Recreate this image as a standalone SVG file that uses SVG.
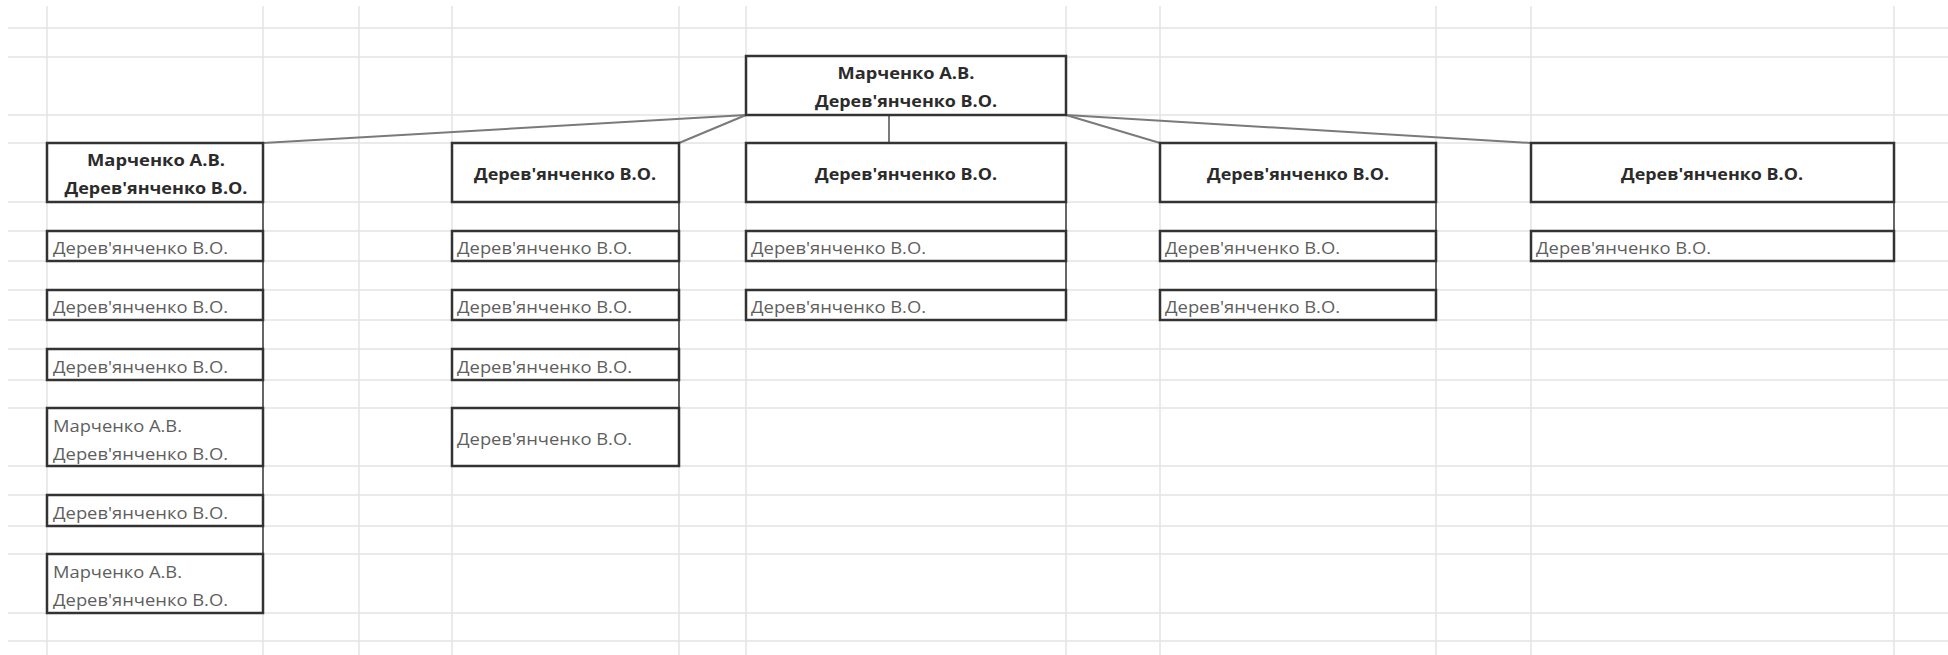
<svg xmlns="http://www.w3.org/2000/svg" width="1948" height="655" viewBox="0 0 1948 655">
  <style>
    .grid line { stroke: #e3e3e3; stroke-width: 1.5; }
    .box { fill: #ffffff; stroke: #333333; stroke-width: 2.5; }
    .head { font-family: "Open Sans", "Liberation Sans", sans-serif; font-weight: bold; font-size: 16px; fill: #2b2b2b; text-anchor: middle; }
    .item { font-family: "Open Sans", "Liberation Sans", sans-serif; font-size: 16px; fill: #5e5e5e; }
    .link { stroke: #7a7a7a; stroke-width: 2; fill: none; }
    .spine { stroke: #444444; stroke-width: 1.6; fill: none; }
  </style>

  <rect width="1948" height="655" fill="#ffffff"/>

  <!-- worksheet grid -->
  <g class="grid">
    <line x1="47" y1="6" x2="47" y2="655"/>
    <line x1="263" y1="6" x2="263" y2="655"/>
    <line x1="359" y1="6" x2="359" y2="655"/>
    <line x1="452" y1="6" x2="452" y2="655"/>
    <line x1="679" y1="6" x2="679" y2="655"/>
    <line x1="746" y1="6" x2="746" y2="655"/>
    <line x1="1066" y1="6" x2="1066" y2="655"/>
    <line x1="1160" y1="6" x2="1160" y2="655"/>
    <line x1="1436" y1="6" x2="1436" y2="655"/>
    <line x1="1531" y1="6" x2="1531" y2="655"/>
    <line x1="1894" y1="6" x2="1894" y2="655"/>
    <line x1="8" y1="28" x2="1948" y2="28"/>
    <line x1="8" y1="57" x2="1948" y2="57"/>
    <line x1="8" y1="115" x2="1948" y2="115"/>
    <line x1="8" y1="143" x2="1948" y2="143"/>
    <line x1="8" y1="202" x2="1948" y2="202"/>
    <line x1="8" y1="231" x2="1948" y2="231"/>
    <line x1="8" y1="261" x2="1948" y2="261"/>
    <line x1="8" y1="290" x2="1948" y2="290"/>
    <line x1="8" y1="320" x2="1948" y2="320"/>
    <line x1="8" y1="349" x2="1948" y2="349"/>
    <line x1="8" y1="380" x2="1948" y2="380"/>
    <line x1="8" y1="408" x2="1948" y2="408"/>
    <line x1="8" y1="466" x2="1948" y2="466"/>
    <line x1="8" y1="495" x2="1948" y2="495"/>
    <line x1="8" y1="526" x2="1948" y2="526"/>
    <line x1="8" y1="554" x2="1948" y2="554"/>
    <line x1="8" y1="613" x2="1948" y2="613"/>
    <line x1="8" y1="641" x2="1948" y2="641"/>
  </g>

  <!-- connectors -->
  <g id="connectors">
    <line class="link" x1="746" y1="115" x2="263" y2="143"/>
    <line class="link" x1="746" y1="115" x2="679" y2="143"/>
    <line class="link" x1="889" y1="115" x2="889" y2="143"/>
    <line class="link" x1="1066" y1="115" x2="1160" y2="143"/>
    <line class="link" x1="1066" y1="115" x2="1531" y2="143"/>
    <line class="spine" x1="263" y1="202" x2="263" y2="554"/>
    <line class="spine" x1="679" y1="202" x2="679" y2="408"/>
    <line class="spine" x1="1066" y1="202" x2="1066" y2="290"/>
    <line class="spine" x1="1436" y1="202" x2="1436" y2="290"/>
    <line class="spine" x1="1894" y1="202" x2="1894" y2="231"/>
  </g>

  <!-- root -->
  <g id="root">
    <rect class="box" x="746" y="56" width="320" height="59"/>
    <text class="head" x="906" y="79" textLength="137" lengthAdjust="spacingAndGlyphs">Марченко А.В.</text>
    <text class="head" x="906" y="107" textLength="182" lengthAdjust="spacingAndGlyphs">Дерев'янченко В.О.</text>
  </g>

  <!-- column 1 -->
  <g id="c1-head">
    <rect class="box" x="47" y="143" width="216" height="59"/>
    <text class="head" x="156" y="166" textLength="138" lengthAdjust="spacingAndGlyphs">Марченко А.В.</text>
    <text class="head" x="156" y="194" textLength="183" lengthAdjust="spacingAndGlyphs">Дерев'янченко В.О.</text>
  </g>
  <g id="c1-r1">
    <rect class="box" x="47" y="231" width="216" height="30"/>
    <text class="item" x="53" y="254" textLength="175" lengthAdjust="spacingAndGlyphs">Дерев'янченко В.О.</text>
  </g>
  <g id="c1-r2">
    <rect class="box" x="47" y="290" width="216" height="30"/>
    <text class="item" x="53" y="313" textLength="175" lengthAdjust="spacingAndGlyphs">Дерев'янченко В.О.</text>
  </g>
  <g id="c1-r3">
    <rect class="box" x="47" y="349" width="216" height="31"/>
    <text class="item" x="53" y="373" textLength="175" lengthAdjust="spacingAndGlyphs">Дерев'янченко В.О.</text>
  </g>
  <g id="c1-r4">
    <rect class="box" x="47" y="408" width="216" height="58"/>
    <text class="item" x="53" y="432" textLength="129" lengthAdjust="spacingAndGlyphs">Марченко А.В.</text>
    <text class="item" x="53" y="460" textLength="175" lengthAdjust="spacingAndGlyphs">Дерев'янченко В.О.</text>
  </g>
  <g id="c1-r5">
    <rect class="box" x="47" y="495" width="216" height="31"/>
    <text class="item" x="53" y="519" textLength="175" lengthAdjust="spacingAndGlyphs">Дерев'янченко В.О.</text>
  </g>
  <g id="c1-r6">
    <rect class="box" x="47" y="554" width="216" height="59"/>
    <text class="item" x="53" y="578" textLength="129" lengthAdjust="spacingAndGlyphs">Марченко А.В.</text>
    <text class="item" x="53" y="606" textLength="175" lengthAdjust="spacingAndGlyphs">Дерев'янченко В.О.</text>
  </g>

  <!-- column 2 -->
  <g id="c2-head">
    <rect class="box" x="452" y="143" width="227" height="59"/>
    <text class="head" x="565" y="180" textLength="182" lengthAdjust="spacingAndGlyphs">Дерев'янченко В.О.</text>
  </g>
  <g id="c2-r1">
    <rect class="box" x="452" y="231" width="227" height="30"/>
    <text class="item" x="457" y="254" textLength="175" lengthAdjust="spacingAndGlyphs">Дерев'янченко В.О.</text>
  </g>
  <g id="c2-r2">
    <rect class="box" x="452" y="290" width="227" height="30"/>
    <text class="item" x="457" y="313" textLength="175" lengthAdjust="spacingAndGlyphs">Дерев'янченко В.О.</text>
  </g>
  <g id="c2-r3">
    <rect class="box" x="452" y="349" width="227" height="31"/>
    <text class="item" x="457" y="373" textLength="175" lengthAdjust="spacingAndGlyphs">Дерев'янченко В.О.</text>
  </g>
  <g id="c2-r4">
    <rect class="box" x="452" y="408" width="227" height="58"/>
    <text class="item" x="457" y="445" textLength="175" lengthAdjust="spacingAndGlyphs">Дерев'янченко В.О.</text>
  </g>

  <!-- column 3 -->
  <g id="c3-head">
    <rect class="box" x="746" y="143" width="320" height="59"/>
    <text class="head" x="906" y="180" textLength="182" lengthAdjust="spacingAndGlyphs">Дерев'янченко В.О.</text>
  </g>
  <g id="c3-r1">
    <rect class="box" x="746" y="231" width="320" height="30"/>
    <text class="item" x="751" y="254" textLength="175" lengthAdjust="spacingAndGlyphs">Дерев'янченко В.О.</text>
  </g>
  <g id="c3-r2">
    <rect class="box" x="746" y="290" width="320" height="30"/>
    <text class="item" x="751" y="313" textLength="175" lengthAdjust="spacingAndGlyphs">Дерев'янченко В.О.</text>
  </g>

  <!-- column 4 -->
  <g id="c4-head">
    <rect class="box" x="1160" y="143" width="276" height="59"/>
    <text class="head" x="1298" y="180" textLength="182" lengthAdjust="spacingAndGlyphs">Дерев'янченко В.О.</text>
  </g>
  <g id="c4-r1">
    <rect class="box" x="1160" y="231" width="276" height="30"/>
    <text class="item" x="1165" y="254" textLength="175" lengthAdjust="spacingAndGlyphs">Дерев'янченко В.О.</text>
  </g>
  <g id="c4-r2">
    <rect class="box" x="1160" y="290" width="276" height="30"/>
    <text class="item" x="1165" y="313" textLength="175" lengthAdjust="spacingAndGlyphs">Дерев'янченко В.О.</text>
  </g>

  <!-- column 5 -->
  <g id="c5-head">
    <rect class="box" x="1531" y="143" width="363" height="59"/>
    <text class="head" x="1712" y="180" textLength="182" lengthAdjust="spacingAndGlyphs">Дерев'янченко В.О.</text>
  </g>
  <g id="c5-r1">
    <rect class="box" x="1531" y="231" width="363" height="30"/>
    <text class="item" x="1536" y="254" textLength="175" lengthAdjust="spacingAndGlyphs">Дерев'янченко В.О.</text>
  </g>
</svg>
